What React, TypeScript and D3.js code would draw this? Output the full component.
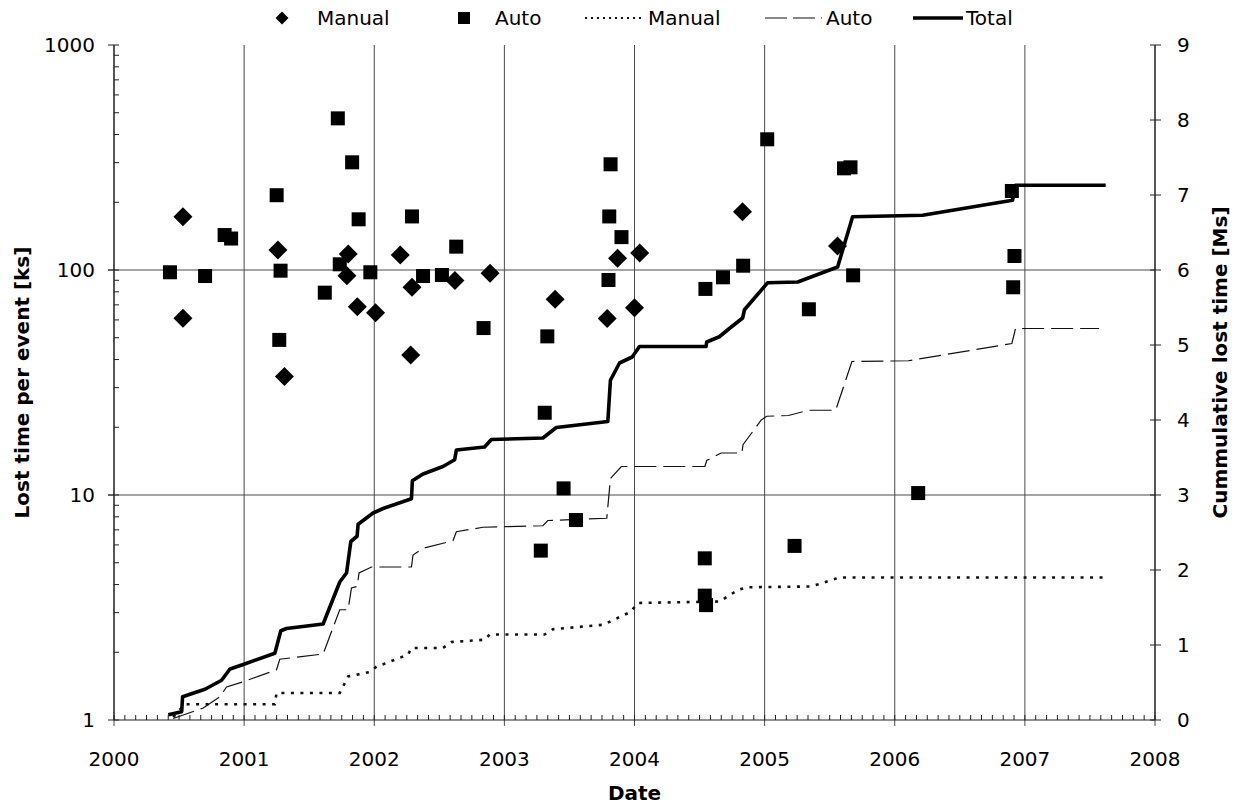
import React from "react";
import * as d3 from "d3";

// ---- data ----
const manualDates = [2000.53, 2000.53, 2001.26, 2001.31, 2001.8, 2001.79, 2001.87, 2002.01, 2002.2, 2002.29, 2002.28, 2002.62, 2002.89, 2003.39, 2003.79, 2003.87, 2004.0, 2004.04, 2004.83, 2005.56];
const manualLoss = [172.6, 61, 122.7, 33.6, 117.8, 94.4, 68.7, 64.6, 116.6, 83.8, 41.9, 89.7, 96.7, 74.1, 60.8, 112.7, 68, 119, 181.6, 127.9];

const autoDates = [2000.43, 2000.7, 2000.85, 2000.9, 2001.25, 2001.27, 2001.28, 2001.62, 2001.72, 2001.735, 2001.83, 2001.88, 2001.97, 2002.29, 2002.375, 2002.52, 2002.63, 2002.84, 2003.28, 2003.31, 2003.33, 2003.455, 2003.55, 2003.8, 2003.806, 2003.816, 2003.9, 2004.54, 2004.54, 2004.55, 2004.545, 2004.68, 2004.835, 2005.02, 2005.23, 2005.34, 2005.61, 2005.66, 2005.68, 2006.18, 2006.9, 2006.92, 2006.91];
const autoLoss = [97.7, 94, 143, 138, 215, 48.9, 99.3, 79.3, 472, 106, 301, 168, 97.7, 173, 94, 95, 127, 55.2, 5.66, 23.2, 50.7, 10.7, 7.74, 90.3, 173, 295, 140, 5.23, 3.57, 3.24, 82.4, 92.8, 104.5, 381, 5.94, 66.9, 283, 286, 94.7, 10.2, 224.5, 115.4, 83.8];

const cumManualDates = [2000.455, 2000.545, 2001.236, 2001.249, 2001.735, 2001.799, 2001.965, 2002.017, 2002.259, 2002.286, 2002.528, 2002.593, 2002.848, 2002.887, 2003.309, 2003.373, 2003.759, 2003.969, 2004.025, 2004.653, 2004.792, 2004.862, 2005.35, 2005.434, 2005.574, 2007.612];
const cumManual = [0.04, 0.21, 0.21, 0.36, 0.36, 0.58, 0.64, 0.71, 0.87, 0.96, 0.96, 1.04, 1.07, 1.14, 1.14, 1.21, 1.27, 1.44, 1.56, 1.58, 1.73, 1.77, 1.78, 1.82, 1.9, 1.9];

const cumAutoDates = [2000.455, 2000.686, 2000.814, 2000.865, 2000.993, 2001.249, 2001.274, 2001.607, 2001.735, 2001.799, 2001.825, 2001.868, 2001.883, 2001.979, 2002.286, 2002.298, 2002.375, 2002.605, 2002.631, 2002.835, 2003.296, 2003.334, 2003.787, 2003.815, 2003.899, 2004.541, 2004.555, 2004.666, 2004.825, 2004.834, 2004.974, 2005.016, 2005.183, 2005.337, 2005.546, 2005.671, 2006.104, 2006.9, 2006.928, 2007.57];
const cumAuto = [0.02, 0.16, 0.31, 0.44, 0.51, 0.67, 0.81, 0.88, 1.47, 1.47, 1.76, 1.78, 1.96, 2.04, 2.04, 2.2, 2.29, 2.39, 2.51, 2.57, 2.59, 2.66, 2.69, 3.22, 3.38, 3.38, 3.46, 3.56, 3.56, 3.67, 4.0, 4.05, 4.06, 4.13, 4.13, 4.78, 4.79, 5.02, 5.22, 5.22];

const cumTotalDates = [2000.417, 2000.52, 2000.527, 2000.699, 2000.827, 2000.891, 2000.993, 2001.236, 2001.282, 2001.326, 2001.607, 2001.735, 2001.787, 2001.82, 2001.868, 2001.876, 2001.991, 2002.068, 2002.286, 2002.293, 2002.375, 2002.528, 2002.618, 2002.631, 2002.848, 2002.9, 2003.296, 2003.399, 2003.795, 2003.815, 2003.885, 2003.982, 2004.038, 2004.55, 2004.555, 2004.652, 2004.729, 2004.831, 2004.845, 2005.023, 2005.254, 2005.561, 2005.676, 2006.214, 2006.905, 2006.93, 2007.621];
const cumTotal = [0.07, 0.11, 0.31, 0.41, 0.53, 0.68, 0.74, 0.89, 1.19, 1.22, 1.28, 1.84, 1.96, 2.38, 2.45, 2.61, 2.76, 2.82, 2.95, 3.19, 3.28, 3.38, 3.47, 3.6, 3.64, 3.74, 3.76, 3.9, 3.98, 4.53, 4.76, 4.84, 4.98, 4.98, 5.04, 5.11, 5.22, 5.36, 5.47, 5.83, 5.84, 6.04, 6.71, 6.73, 6.93, 7.13, 7.13];

const yearTicks = [2000, 2001, 2002, 2003, 2004, 2005, 2006, 2007, 2008];
const leftTicks = [1, 10, 100, 1000];
const rightTicks = [0, 1, 2, 3, 4, 5, 6, 7, 8, 9];

const FONT = "'DejaVu Sans', Verdana, sans-serif";

export default function App() {
  const W = 1239, H = 808;
  const L = 114, R = 1155, T = 45, B = 720;
  const x = d3.scaleLinear().domain([2000, 2008]).range([L, R]);
  const yL = d3.scaleLog().domain([1, 1000]).range([B, T]);
  const yR = d3.scaleLinear().domain([0, 9]).range([B, T]);

  const mkLine = (xs: number[], ys: number[]) =>
    d3.line<number>().x((_, i) => x(xs[i])).y((d) => yR(d))(ys) || "";

  const minorLeft: number[] = [];
  [1, 10, 100].forEach((d) => {
    for (let k = 2; k <= 9; k++) minorLeft.push(k * d);
  });
  const months = d3.range(0, 97).map((i) => 2000 + i / 12);

  const gridColor = "#4a4a4a";
  const sq = 14;
  const dia = 9.5;
  const diamondPath = (cx: number, cy: number, r: number) =>
    `M${cx},${cy - r}L${cx + r},${cy}L${cx},${cy + r}L${cx - r},${cy}Z`;

  return (
    <svg width={W} height={H} style={{ position: "absolute", left: 0, top: 0, background: "#fff" }} fontFamily={FONT}>
      <rect x={0} y={0} width={W} height={H} fill="#fff" />
      {/* grid */}
      {yearTicks.map((t) => (
        <line key={"vg" + t} x1={x(t)} x2={x(t)} y1={T} y2={B + 6} stroke={gridColor} strokeWidth={1} />
      ))}
      {[10, 100].map((t) => (
        <line key={"hg" + t} x1={L - 6} x2={R} y1={yL(t)} y2={yL(t)} stroke={gridColor} strokeWidth={1} />
      ))}
      {/* axes */}
      <line x1={L} x2={L} y1={T} y2={B} stroke="#222" strokeWidth={1.2} />
      <line x1={R} x2={R} y1={T} y2={B} stroke="#222" strokeWidth={1.2} />
      <line x1={L} x2={R} y1={B} y2={B} stroke="#222" strokeWidth={1.2} />
      {leftTicks.map((t) => (
        <line key={"lt" + t} x1={L - 6} x2={L + 5} y1={yL(t)} y2={yL(t)} stroke="#222" />
      ))}
      {minorLeft.map((t) => (
        <line key={"lm" + t} x1={L} x2={L + 5} y1={yL(t)} y2={yL(t)} stroke="#222" />
      ))}
      {months.map((m, i) => (
        <line key={"mt" + i} x1={x(m)} x2={x(m)} y1={B} y2={B - 5} stroke="#222" />
      ))}
      {rightTicks.map((t) => (
        <line key={"rt" + t} x1={R - 5} x2={R + 6} y1={yR(t)} y2={yR(t)} stroke="#222" />
      ))}
      {/* tick labels */}
      {leftTicks.map((t) => (
        <text key={"ll" + t} x={L - 19} y={yL(t) + 7} textAnchor="end" fontSize={20}>{t}</text>
      ))}
      {rightTicks.map((t) => (
        <text key={"rl" + t} x={R + 22} y={yR(t) + 7} textAnchor="start" fontSize={20}>{t}</text>
      ))}
      {yearTicks.map((t) => (
        <text key={"xl" + t} x={x(t)} y={B + 46} textAnchor="middle" fontSize={20}>{t}</text>
      ))}
      {/* titles */}
      <text x={x(2004)} y={800} textAnchor="middle" fontSize={20} fontWeight="bold">Date</text>
      <text transform={`translate(29,${(T + B) / 2}) rotate(-90)`} textAnchor="middle" fontSize={20} fontWeight="bold">Lost time per event [ks]</text>
      <text transform={`translate(1227,${(T + B) / 2 - 20}) rotate(-90)`} textAnchor="middle" fontSize={20} fontWeight="bold">Cummulative lost time [Ms]</text>

      {/* cumulative lines */}
      <path d={mkLine(cumManualDates, cumManual)} fill="none" stroke="#111" strokeWidth={2.6} strokeDasharray="3,6.5" />
      <path d={mkLine(cumAutoDates, cumAuto)} fill="none" stroke="#111" strokeWidth={1.2} strokeDasharray="22,7" />
      <path d={mkLine(cumTotalDates, cumTotal)} fill="none" stroke="#000" strokeWidth={3.6} strokeLinejoin="round" />

      {/* markers */}
      {autoDates.map((d, i) => (
        <rect key={"a" + i} x={x(d) - sq / 2} y={yL(autoLoss[i]) - sq / 2} width={sq} height={sq} fill="#000" />
      ))}
      {manualDates.map((d, i) => (
        <path key={"m" + i} d={diamondPath(x(d), yL(manualLoss[i]), dia)} fill="#000" />
      ))}

      {/* legend */}
      <path d={diamondPath(282, 18, 6.5)} fill="#000" />
      <text x={317} y={25} fontSize={20}>Manual</text>
      <rect x={458} y={12} width={12} height={12} fill="#000" />
      <text x={495} y={25} fontSize={20}>Auto</text>
      <line x1={585} x2={645} y1={18} y2={18} stroke="#111" strokeWidth={2} strokeDasharray="2,4" />
      <text x={648} y={25} fontSize={20}>Manual</text>
      <line x1={765} x2={822} y1={18} y2={18} stroke="#111" strokeWidth={1.2} strokeDasharray="22,6" />
      <text x={826} y={25} fontSize={20}>Auto</text>
      <line x1={913} x2={963} y1={18} y2={18} stroke="#000" strokeWidth={3.6} />
      <text x={966} y={25} fontSize={20}>Total</text>
    </svg>
  );
}
